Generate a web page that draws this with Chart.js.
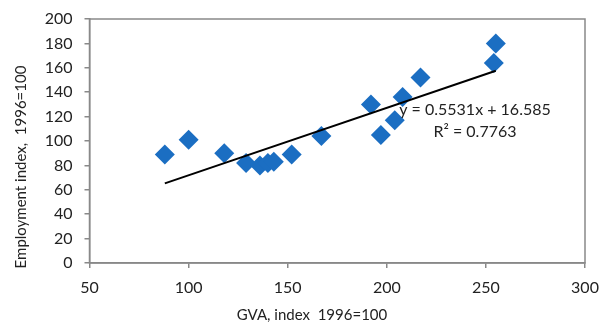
<!DOCTYPE html>
<html>
<head>
<meta charset="utf-8">
<script src="https://cdn.jsdelivr.net/npm/chart.js@4"></script>
<style>
  html, body { margin: 0; padding: 0; background: #fff; }
  #wrap { width: 601px; height: 327px; }
</style>
</head>
<body>
<div id="wrap"><canvas id="chart" width="601" height="327"></canvas></div>
<script>
// GVA index (x) vs employment index (y), 1996=100
const gva = [88, 100, 118, 129, 136, 140, 143, 152, 167, 192, 197, 204, 208, 217, 254, 255];
const employment = [89, 101, 90, 82, 80, 82, 83, 89, 104, 130, 105, 117, 136, 152, 164, 180];
const xTicks = [50, 100, 150, 200, 250, 300];
const yTicks = [0, 20, 40, 60, 80, 100, 120, 140, 160, 180, 200];
const slope = 0.5531;
const intercept = 16.585;
const rSquared = 0.7763;

const FONT = "Lato, 'Open Sans', sans-serif";
const AXIS = "#898989";
const TEXT = "#222";

const points = gva.map((x, i) => ({ x: x, y: employment[i] }));
const xMin = Math.min(...gva), xMax = Math.max(...gva);
const trend = [
  { x: xMin, y: slope * xMin + intercept },
  { x: xMax, y: slope * xMax + intercept }
];

// frame round the plot, axis titles and the trendline label
const extras = {
  id: "extras",
  afterDraw(chart) {
    const { ctx, chartArea: a } = chart;
    ctx.save();
    ctx.strokeStyle = AXIS;
    ctx.lineWidth = 1.5;
    ctx.strokeRect(a.left, a.top, a.right - a.left, a.bottom - a.top);

    ctx.fillStyle = TEXT;
    ctx.font = "15px " + FONT;
    ctx.textAlign = "center";
    ctx.textBaseline = "middle";
    ctx.fillText("GVA, index  1996=100", 312, 315);

    ctx.save();
    ctx.translate(21, 167);
    ctx.rotate(-Math.PI / 2);
    ctx.fillText("Employment index,  1996=100", 0, 0);
    ctx.restore();

    ctx.font = "16px " + FONT;
    ctx.fillText("y = " + slope + "x + " + intercept, 475, 110);
    ctx.fillText("R\u00B2 = " + rSquared, 475, 132);
    ctx.restore();
  }
};

new Chart(document.getElementById("chart"), {
  type: "scatter",
  data: {
    datasets: [
      {
        data: points,
        pointStyle: "rectRot",
        pointRadius: 10,
        pointBackgroundColor: "#1B6EC2",
        pointBorderWidth: 0,
        order: 2
      },
      {
        type: "line",
        data: trend,
        borderColor: "#000",
        borderWidth: 2,
        pointRadius: 0,
        fill: false,
        order: 1
      }
    ]
  },
  options: {
    responsive: false,
    animation: false,
    layout: { padding: { top: 19, right: 16, left: 0, bottom: 0 } },
    plugins: { legend: { display: false }, tooltip: { enabled: false } },
    scales: {
      x: {
        type: "linear",
        min: 50,
        max: 300,
        afterBuildTicks: (s) => { s.ticks = xTicks.map(v => ({ value: v })); },
        afterFit: (s) => { s.height = 64; s.paddingLeft = 0; s.paddingRight = 0; },
        grid: { drawOnChartArea: false, drawTicks: true, tickLength: 5, color: AXIS, lineWidth: 1.5 },
        border: { color: AXIS, width: 1.5 },
        ticks: { color: TEXT, font: { family: FONT, size: 16 }, padding: 10, maxRotation: 0 }
      },
      y: {
        type: "linear",
        min: 0,
        max: 200,
        afterBuildTicks: (s) => { s.ticks = yTicks.map(v => ({ value: v })); },
        afterFit: (s) => { s.width = 89.5; s.paddingTop = 0; s.paddingBottom = 0; },
        grid: { drawOnChartArea: false, drawTicks: true, tickLength: 5, color: AXIS, lineWidth: 1.5 },
        border: { color: AXIS, width: 1.5 },
        ticks: { color: TEXT, font: { family: FONT, size: 16 }, padding: 12 }
      }
    }
  },
  plugins: [extras]
});
</script>
</body>
</html>
